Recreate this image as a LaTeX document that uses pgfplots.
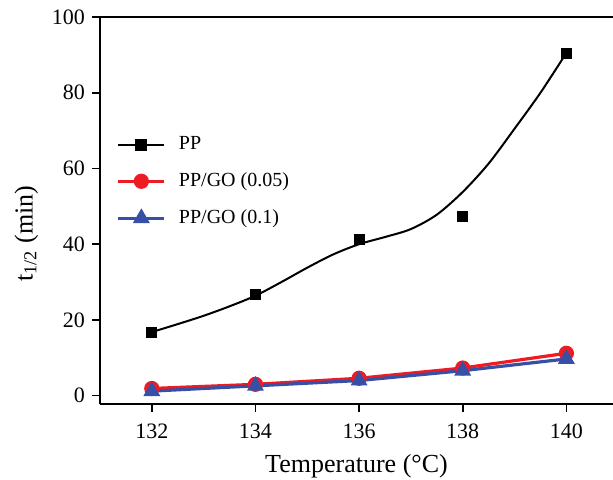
\documentclass[border=0pt]{standalone}
\usepackage{fontspec}
\setmainfont{Liberation Serif}
\usepackage{pgfplots}
\pgfplotsset{compat=1.18}
\definecolor{redline}{RGB}{237,28,36}
\definecolor{blueline}{RGB}{55,80,165}

\begin{document}
\begin{tikzpicture}
\begin{axis}[
  scale only axis, width=256.5pt, height=193.5pt,
  xmin=131, xmax=140.9, ymin=-2.2, ymax=100,
  axis x line=box, axis y line=left,
  axis line style={line width=0.8pt, -},
  xtick={132,134,136,138,140}, ytick={0,20,40,60,80,100},
  xticklabels={132,134,136,138,140},
  yticklabels={0,20,40,60,80,100},
  xtick pos=left, ytick pos=left,
  tick align=outside, major tick length=4pt,
  tick style={line width=0.8pt, black},
  tick label style={font=\rmfamily\fontsize{11}{13}\selectfont},
  x tick label style={yshift=-2.5pt},
  label style={font=\fontsize{13}{15}\selectfont},
  xlabel={Temperature (°C)},
  xlabel style={yshift=-1pt},
  ylabel={t\textsubscript{1/2} (min)},
  ylabel style={at={(ticklabel cs:0.44)}},
  legend style={draw=none, fill=none, font=\fontsize{10}{12}\selectfont,
    at={(axis cs:131.2,70.6)}, anchor=north west, row sep=6pt,
    column sep=4.5pt, cells={anchor=west}},
  legend image code/.code={\draw[mark repeat=2,mark phase=2]
    plot coordinates {(0pt,0pt) (11.5pt,0pt) (23pt,0pt)};},
]
\addlegendimage{black, line width=1pt, mark=square*, mark size=2.5pt}
\addlegendentry{PP}

\addplot[redline, line width=1.6pt, mark=*, mark size=3pt]
  coordinates {(132,1.9) (134,3.0) (136,4.6) (138,7.3) (140,11.2)};
\addlegendentry{PP/GO (0.05)}

\addplot[blueline, line width=1.6pt, mark=triangle*, mark size=3.3pt]
  coordinates {(132,1.2) (134,2.6) (136,4.0) (138,6.6) (140,9.7)};
\addlegendentry{PP/GO (0.1)}

% fitted curve through the PP data
\addplot[black, line width=1pt, smooth, forget plot]
  coordinates {(132,16.8) (132.5,18.9) (133,21.1) (133.5,23.6) (134,26.4)
    (134.5,30) (135,33.8) (135.5,37.3) (136,40) (136.5,41.9) (137,44)
    (137.5,47.8) (138,53.8) (138.5,61.3) (139,70.5) (139.5,80) (140,90.5)};
\addplot[black, only marks, mark=square*, mark size=2.5pt, forget plot]
  coordinates {(132,16.7) (134,26.7) (136,41.3) (138,47.4) (140,90.5)};
\end{axis}
\pgfresetboundingbox
\path ([shift={(-50pt,-37.5pt)}]current axis.south west)
  rectangle ([shift={(0pt,8.5pt)}]current axis.north east);
\end{tikzpicture}
\end{document}
